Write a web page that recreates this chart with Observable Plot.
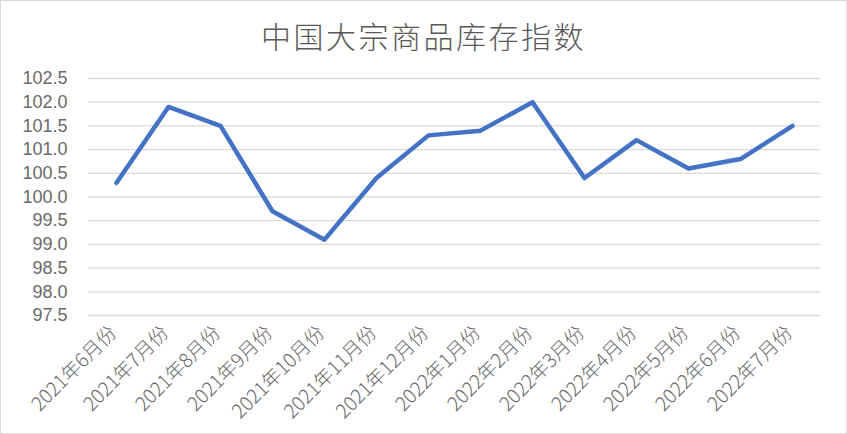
<!DOCTYPE html>
<html>
<head>
<meta charset="utf-8">
<script src="https://cdn.jsdelivr.net/npm/d3@7"></script>
<script src="https://cdn.jsdelivr.net/npm/@observablehq/plot@0.6"></script>
<style>
  body { margin: 0; background: #fff; }
  #chart { width: 847px; height: 434px; box-sizing: border-box; border: 1px solid #d9d9d9; background: #fff; font-family: "Noto Sans CJK SC", "Noto Sans", sans-serif; }
  #title { height: 60px; line-height: 68px; text-align: center; font-size: 30px; font-weight: 300; letter-spacing: 2.5px; color: #595959; }
</style>
</head>
<body>
<div id="chart"><div id="title">中国大宗商品库存指数</div></div>
<script>
const months = ["2021年6月份","2021年7月份","2021年8月份","2021年9月份","2021年10月份","2021年11月份","2021年12月份","2022年1月份","2022年2月份","2022年3月份","2022年4月份","2022年5月份","2022年6月份","2022年7月份"];
const values = [100.3, 101.9, 101.5, 99.7, 99.1, 100.4, 101.3, 101.4, 102.0, 100.4, 101.2, 100.6, 100.8, 101.5];
const yTicks = [97.5, 98.0, 98.5, 99.0, 99.5, 100.0, 100.5, 101.0, 101.5, 102.0, 102.5];

const data = months.map((m, i) => ({month: m, value: values[i]}));

const plot = Plot.plot({
  width: 845,
  height: 372,
  marginTop: 17,
  marginBottom: 118,
  marginLeft: 87,
  marginRight: 26,
  style: {fontFamily: '"Liberation Sans", "Noto Sans CJK SC", sans-serif', fontSize: "18px", color: "#6a6a6a", background: "transparent"},
  x: {type: "band", domain: months, padding: 0, axis: null},
  y: {domain: [97.5, 102.5], axis: null},
  marks: [
    Plot.gridY(yTicks, {stroke: "#d9d9d9", strokeOpacity: 1, strokeWidth: 1.3}),
    Plot.text(yTicks, {y: d => d, text: d => d.toFixed(1), frameAnchor: "left", textAnchor: "end", dx: -21, fill: "#6a6a6a", fontSize: 18}),
    Plot.axisX({tickSize: 0, tickRotate: -45, tickPadding: 14, dx: -3, fill: "#6a6a6a", label: null, fontSize: 19.5, fontWeight: 300, fontFamily: '"Noto Sans CJK SC", sans-serif'}),
    Plot.line(data, {x: "month", y: "value", stroke: "#4472C4", strokeWidth: 4.5, strokeLinejoin: "round", strokeLinecap: "round"})
  ]
});
document.getElementById("chart").appendChild(plot);
</script>
</body>
</html>
